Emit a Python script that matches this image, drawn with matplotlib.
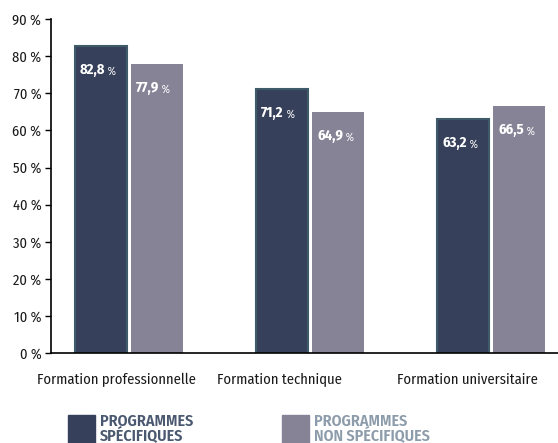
import matplotlib.pyplot as plt
import numpy as np
from matplotlib.patches import Rectangle

plt.rcParams['font.family'] = ['Fira Sans Condensed', 'Roboto', 'DejaVu Sans']

# Data
categories = ['Formation professionnelle', 'Formation technique', 'Formation universitaire']
specifiques = [82.8, 71.2, 63.2]
non_specifiques = [77.9, 64.9, 66.5]
series_names = ['PROGRAMMES\nSPÉCIFIQUES', 'PROGRAMMES\nNON SPÉCIFIQUES']
yticks = [0, 10, 20, 30, 40, 50, 60, 70, 80, 90]

dark = '#36405a'
light = '#878397'

fig = plt.figure(figsize=(5.58, 4.43), dpi=100)
ax = fig.add_axes([0.0914, 0.203, 0.9086, 0.754])

x = np.arange(len(categories))
w = 0.29
ax.bar(x - w / 2 - 0.01, specifiques, w, color=dark, edgecolor='#3f5a68', linewidth=1.5)
ax.bar(x + w / 2 + 0.01, non_specifiques, w, color=light, linewidth=0)

def label(xs, vals):
    for xi, v in zip(xs, vals):
        t = ax.text(xi - w / 2 + 0.03, v - 7.6, f'{v:.1f}'.replace('.', ','), color='white',
                    fontsize=10.5, fontweight='bold', ha='left', va='baseline')
        ax.annotate(' %', xy=(1, 0), xycoords=t, color='white', fontsize=8,
                    ha='left', va='bottom')

label(x - w / 2 - 0.01, specifiques)
label(x + w / 2 + 0.01, non_specifiques)

ax.set_xlim(-0.43, 2.37)
ax.set_ylim(0, 90)
ax.set_yticks(yticks)
ax.set_yticklabels([f'{t} %' for t in yticks], fontsize=10.5, color='#1a1a1a')
# category labels are shifted so the last one fits in the figure
ax.set_xticks([-0.071, 0.83, 1.868])
ax.set_xticklabels(categories, fontsize=10.5, color='#1a1a1a')
ax.tick_params(axis='x', length=0, pad=14)
ax.tick_params(axis='y', length=4, width=1, pad=3)
for s in ['top', 'right']:
    ax.spines[s].set_visible(False)
ax.spines['left'].set_linewidth(1.2)
ax.spines['bottom'].set_linewidth(1.2)

# Legend
fig.patches.append(Rectangle((68 / 558, 0), 27 / 558, 28 / 443, transform=fig.transFigure,
                             color=dark, clip_on=False))
fig.text(100 / 558, 14 / 443, series_names[0], color='#4a5870', fontsize=11.5,
         fontweight='semibold', va='center', ha='left', linespacing=0.85)
fig.patches.append(Rectangle((282 / 558, 0), 27 / 558, 28 / 443, transform=fig.transFigure,
                             color=light, clip_on=False))
fig.text(314 / 558, 14 / 443, series_names[1], color='#8d9cab', fontsize=11.5,
         fontweight='semibold', va='center', ha='left', linespacing=0.85)

fig.savefig('out.png', dpi=100)
